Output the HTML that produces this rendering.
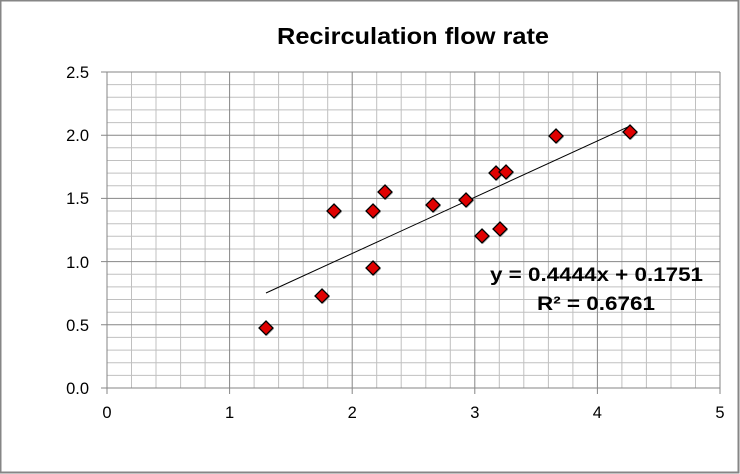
<!DOCTYPE html><html><head><style>body{margin:0;background:#fff}svg{display:block}</style></head><body>
<svg width="740" height="474" xmlns="http://www.w3.org/2000/svg" xmlns:xlink="http://www.w3.org/1999/xlink" font-family="Liberation Sans, sans-serif">
<defs>
<g id="m"><polygon points="1,-6 8,1 1,8 -6,1" fill="#7f7f7f" opacity="0.6"/><polygon points="0,-7 7,0 0,7 -7,0" fill="#e00000" stroke="#000" stroke-width="1.3"/></g>
</defs>
<rect x="0.5" y="0.5" width="738" height="472" fill="#fff" stroke="#868686" stroke-width="2"/>
<text x="277" y="44" font-size="23" font-weight="bold" textLength="272" lengthAdjust="spacingAndGlyphs" fill="#000">Recirculation flow rate</text>
<path stroke="#c0c0c0" stroke-width="1" fill="none" d="
M131.5,72V388M156,72V388M180.6,72V388M205.1,72V388
M254.1,72V388M278.6,72V388M303.2,72V388M327.7,72V388
M376.7,72V388M401.2,72V388M425.8,72V388M450.3,72V388
M499.3,72V388M523.8,72V388M548.4,72V388M572.9,72V388
M621.9,72V388M646.4,72V388M671,72V388M695.5,72V388
M107,375.4H720M107,362.7H720M107,350.1H720M107,337.4H720
M107,312.2H720M107,299.5H720M107,286.9H720M107,274.2H720
M107,249H720M107,236.3H720M107,223.7H720M107,211H720
M107,185.8H720M107,173.1H720M107,160.5H720M107,147.8H720
M107,122.6H720M107,109.9H720M107,97.3H720M107,84.6H720"/>
<path stroke="#868686" stroke-width="1" fill="none" d="
M107,72V394M229.6,72V394M352.2,72V394M474.8,72V394M597.4,72V394M720,72V394
M101,388H720M101,324.8H720M101,261.6H720M101,198.4H720M101,135.2H720M101,72H720"/>
<g font-size="16.5" text-anchor="middle" fill="#000">
<text x="107" y="418">0</text><text x="229.6" y="418">1</text><text x="352.2" y="418">2</text><text x="474.8" y="418">3</text><text x="597.4" y="418">4</text><text x="720" y="418">5</text>
</g>
<g font-size="16.5" text-anchor="end" fill="#000">
<text x="89" y="394">0.0</text><text x="89" y="331">0.5</text><text x="89" y="268">1.0</text><text x="89" y="204">1.5</text><text x="89" y="141">2.0</text><text x="89" y="78">2.5</text>
</g>
<line x1="266" y1="293" x2="630" y2="126" stroke="#000" stroke-width="1"/>
<use xlink:href="#m" x="266" y="328"/><use xlink:href="#m" x="322" y="296"/><use xlink:href="#m" x="334" y="211"/><use xlink:href="#m" x="373" y="268"/>
<use xlink:href="#m" x="373" y="211"/><use xlink:href="#m" x="385" y="192"/><use xlink:href="#m" x="433" y="205"/><use xlink:href="#m" x="466" y="200"/>
<use xlink:href="#m" x="482" y="236"/><use xlink:href="#m" x="496" y="173"/><use xlink:href="#m" x="500" y="229"/><use xlink:href="#m" x="506" y="172"/>
<use xlink:href="#m" x="556" y="136"/><use xlink:href="#m" x="630" y="132"/>
<text x="490" y="281" font-size="19" font-weight="bold" textLength="213" lengthAdjust="spacingAndGlyphs">y = 0.4444x + 0.1751</text>
<text x="537" y="310" font-size="19" font-weight="bold" textLength="118" lengthAdjust="spacingAndGlyphs">R² = 0.6761</text>
</svg></body></html>
